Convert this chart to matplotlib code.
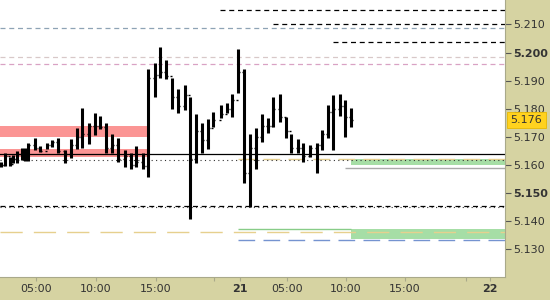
import matplotlib
matplotlib.use("Agg")
import matplotlib.pyplot as plt

# bar time in 5-minute steps from the left edge of the chart
t5 = [1, 5, 10, 13, 17, 22, 25, 28, 35, 40, 47, 52, 58, 65, 71, 77, 82, 89, 95, 100,
      106, 112, 118, 125, 131, 136, 143, 148, 155, 160, 166, 172, 178, 185, 190, 196,
      202, 208, 213, 221, 227, 232, 238, 244, 250, 256, 262, 268, 273, 280, 286, 291,
      298, 303, 310, 317, 322, 328, 333, 340, 345, 351]
highs = [5.1610, 5.1642, 5.1628, 5.1635, 5.1649, 5.1660, 5.1660, 5.1678, 5.1696, 5.1667,
         5.1678, 5.1689, 5.1696, 5.1653, 5.1692, 5.1731, 5.1802, 5.1749, 5.1785, 5.1774,
         5.1749, 5.1710, 5.1696, 5.1653, 5.1642, 5.1667, 5.1642, 5.1941, 5.1963, 5.2020,
         5.1973, 5.1909, 5.1870, 5.1884, 5.1842, 5.1781, 5.1749, 5.1763, 5.1788, 5.1813,
         5.1820, 5.1852, 5.2012, 5.1941, 5.1710, 5.1731, 5.1781, 5.1767, 5.1842, 5.1852,
         5.1770, 5.1710, 5.1692, 5.1678, 5.1671, 5.1678, 5.1724, 5.1813, 5.1849, 5.1852,
         5.1831, 5.1802]
lows = [5.1592, 5.1596, 5.1596, 5.1607, 5.1607, 5.1617, 5.1614, 5.1614, 5.1653, 5.1646,
        5.1657, 5.1664, 5.1642, 5.1607, 5.1625, 5.1657, 5.1660, 5.1674, 5.1706, 5.1728,
        5.1642, 5.1642, 5.1610, 5.1592, 5.1585, 5.1592, 5.1585, 5.1557, 5.1842, 5.1909,
        5.1906, 5.1799, 5.1785, 5.1795, 5.1407, 5.1607, 5.1642, 5.1657, 5.1735, 5.1767,
        5.1785, 5.1770, 5.1856, 5.1536, 5.1450, 5.1585, 5.1681, 5.1714, 5.1735, 5.1753,
        5.1696, 5.1642, 5.1642, 5.1610, 5.1628, 5.1571, 5.1653, 5.1696, 5.1653, 5.1774,
        5.1699, 5.1735]
closes = [5.1600, 5.1630, 5.1605, 5.1620, 5.1640, 5.1630, 5.1650, 5.1670, 5.1660, 5.1650,
          5.1670, 5.1680, 5.1650, 5.1640, 5.1670, 5.1700, 5.1710, 5.1740, 5.1740, 5.1735,
          5.1660, 5.1670, 5.1620, 5.1630, 5.1600, 5.1610, 5.1595, 5.1910, 5.1920, 5.1930,
          5.1915, 5.1840, 5.1810, 5.1850, 5.1620, 5.1720, 5.1690, 5.1730, 5.1760, 5.1780,
          5.1800, 5.1830, 5.1930, 5.1570, 5.1660, 5.1700, 5.1740, 5.1740, 5.1800, 5.1770,
          5.1720, 5.1660, 5.1660, 5.1630, 5.1660, 5.1670, 5.1710, 5.1790, 5.1800, 5.1810,
          5.1770, 5.1760]
opens = [5.1605] + closes[:-1]

last_price = 5.176
y_ticks = [5.130, 5.140, 5.150, 5.160, 5.170, 5.180, 5.190, 5.200, 5.210]
bold_y = [5.150, 5.200]
x_tick_pos = [36, 96, 156, 214, 240, 287, 346, 405, 466, 490]
x_tick_labels = ["05:00", "10:00", "15:00", "", "21", "05:00", "10:00", "15:00", "", "22"]
bold_x = ["21", "22"]

# support / resistance levels
red_zones = [(5.1699, 5.1738), (5.1627, 5.1655)]
green_zones = [(5.1598, 5.1620), (5.1338, 5.1373)]
full_dash_levels = [5.2086, 5.1983, 5.1958]
black_dash_levels = [5.2151, 5.2100, 5.2036]
black_dash_start = [220, 273, 333]
pivot = 5.1638
dotted_level = 5.1617
lower_dash = 5.1452
yellow_upper = 5.1621
yellow_lower = 5.1361
grey_level = 5.1589
green_line = 5.1373
blue_level = 5.1333

tan = "#d6d3a2"
fig = plt.figure(figsize=(5.5, 3), dpi=100, facecolor=tan)
ax = fig.add_axes([0, 23 / 300, 505 / 550, 277 / 300])
ax.set_facecolor("white")
ax.set_xlim(0, 505)
ax.set_ylim(5.1201, 5.2187)

# zones
for lo, hi in red_zones:
    ax.fill_between([0, 148], lo, hi, color="#fb9594", lw=0, zorder=1)
for lo, hi in green_zones:
    ax.fill_between([351, 505], lo, hi, color="#a6dea6", lw=0, zorder=1)

# levels
ax.axhline(full_dash_levels[0], color="#8ea3b5", lw=0.9, dashes=(4, 3), zorder=2)
ax.axhline(full_dash_levels[1], color="#d8c8c8", lw=0.9, dashes=(4, 3), zorder=2)
ax.axhline(full_dash_levels[2], color="#d9a2c4", lw=0.9, dashes=(4, 3), zorder=2)
for lvl, x0 in zip(black_dash_levels, black_dash_start):
    ax.hlines(lvl, x0, 505, color="black", lw=0.9, linestyles=(0, (4, 3)), zorder=2)
ax.axhline(pivot, color="black", lw=0.9, zorder=2)
ax.axhline(dotted_level, color="#333333", lw=0.8, linestyle=(0, (1, 3)), zorder=3)
ax.axhline(lower_dash, color="black", lw=0.9, linestyle=(0, (4, 3)), zorder=2)
ax.axhline(lower_dash - 0.0003, color="#333333", lw=0.8, linestyle=(0, (1, 3)), zorder=2)
ax.hlines(yellow_upper, 238, 505, color="#e6d08e", lw=1.0, linestyles=(0, (12, 6)), zorder=2)
ax.axhline(yellow_lower, color="#e6d08e", lw=1.0, dashes=(16, 8), zorder=2)
ax.hlines(grey_level, 345, 505, color="#aaaaaa", lw=1.0, zorder=2)
ax.hlines(green_line, 238, 351, color="#88cc88", lw=1.0, zorder=2)
ax.hlines(blue_level, 238, 505, color="#7593d0", lw=1.0, linestyles=(0, (12, 6)), zorder=2)

# OHLC bars
ax.vlines(t5, lows, highs, color="black", lw=2.2, zorder=5)
ax.hlines(opens, [t - 2 for t in t5], t5, color="black", lw=1.0, zorder=5)
ax.hlines(closes, t5, [t + 2 for t in t5], color="black", lw=1.0, zorder=5)

# axes styling
for side in ["top", "left"]:
    ax.spines[side].set_visible(False)
for side in ["right", "bottom"]:
    ax.spines[side].set_color("#a9a98a")
    ax.spines[side].set_linewidth(0.8)

ax.yaxis.tick_right()
ax.set_yticks(y_ticks)
ax.set_yticklabels(["%.3f" % v for v in y_ticks])
ax.tick_params(axis="y", length=4, width=0.8, color="#555555", labelsize=8,
               labelcolor="#333333", pad=2)
for lab, v in zip(ax.get_yticklabels(), y_ticks):
    if v in bold_y:
        lab.set_fontweight("bold")

ax.set_xticks(x_tick_pos)
ax.set_xticklabels(x_tick_labels)
ax.tick_params(axis="x", length=3, width=0.8, color="#a9a98a", labelsize=8,
               labelcolor="#333333", pad=2)
for lab in ax.get_xticklabels():
    if lab.get_text() in bold_x:
        lab.set_fontweight("bold")

# last price marker
ax.annotate("%.3f" % last_price, xy=(1, last_price), xycoords=("axes fraction", "data"),
            xytext=(4, 0), textcoords="offset points", va="center", ha="left",
            fontsize=8, color="#333333", annotation_clip=False, zorder=10,
            bbox=dict(boxstyle="square,pad=0.3", fc="#ffd21f", ec="#e8b800", lw=0.6))

fig.savefig("out.png", dpi=100, facecolor=tan)
